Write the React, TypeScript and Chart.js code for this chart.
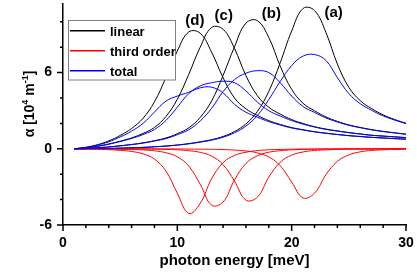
import React, { useEffect, useRef } from "react";
import { Chart, registerables } from "chart.js";

Chart.register(...registerables);

// photon energy [meV]
const energy = [1, 2, 3, 4, 5, 6, 7, 8, 9, 10, 11, 12, 13, 14, 15, 16, 17, 18, 19, 20, 21, 22, 23, 24, 25, 26, 27, 28, 29, 30];

// linear absorption (black)
const linearA = [0, 0.01, 0.02, 0.03, 0.05, 0.08, 0.11, 0.16, 0.22, 0.3, 0.41, 0.55, 0.72, 0.97, 1.36, 1.96, 2.94, 4.52, 6.78, 9.27, 11.05, 10.89, 9.15, 6.67, 4.84, 3.79, 3.16, 2.67, 2.31, 2.01];
const linearB = [0, 0.03, 0.08, 0.15, 0.24, 0.34, 0.47, 0.64, 0.85, 1.19, 1.65, 2.47, 3.77, 5.77, 8.03, 9.89, 10.09, 8.76, 6.51, 4.68, 3.58, 2.99, 2.51, 2.16, 1.88, 1.68, 1.51, 1.37, 1.26, 1.15];
const linearC = [0, 0.08, 0.2, 0.38, 0.6, 0.86, 1.21, 1.68, 2.54, 3.9, 5.86, 8.0, 9.55, 9.41, 7.9, 5.76, 4.18, 3.27, 2.73, 2.3, 1.99, 1.74, 1.55, 1.41, 1.28, 1.17, 1.07, 1.0, 0.94, 0.88];
const linearD = [0, 0.12, 0.32, 0.62, 1.05, 1.6, 2.4, 3.7, 5.6, 7.7, 9.2, 9.1, 7.6, 5.6, 4.0, 3.15, 2.63, 2.22, 1.92, 1.67, 1.5, 1.35, 1.23, 1.13, 1.04, 0.97, 0.9, 0.85, 0.8, 0.76];

// third order (red)
const thirdA = [0, 0, 0, 0, 0, 0, 0, 0, -0.01, -0.01, -0.02, -0.03, -0.04, -0.06, -0.1, -0.17, -0.32, -0.64, -1.33, -2.62, -3.87, -3.49, -2.04, -0.99, -0.48, -0.24, -0.13, -0.08, -0.05, -0.03];
const thirdB = [0, 0, 0, -0.01, -0.01, -0.01, -0.02, -0.03, -0.05, -0.08, -0.15, -0.28, -0.58, -1.24, -2.54, -4.04, -3.81, -2.23, -1.06, -0.5, -0.25, -0.13, -0.08, -0.05, -0.03, -0.02, -0.02, -0.01, -0.01, -0.01];
const thirdC = [0, 0, -0.01, -0.02, -0.03, -0.05, -0.09, -0.16, -0.31, -0.63, -1.36, -2.79, -4.44, -4.19, -2.45, -1.16, -0.55, -0.27, -0.15, -0.08, -0.05, -0.03, -0.02, -0.02, -0.01, -0.01, -0.01, 0, 0, 0];
const thirdD = [0, -0.02, -0.04, -0.07, -0.12, -0.21, -0.4, -0.81, -1.75, -3.5, -5.09, -4.3, -2.35, -1.1, -0.52, -0.27, -0.14, -0.08, -0.05, -0.03, -0.02, -0.02, -0.01, -0.01, -0.01, -0.01, 0, 0, 0, 0];

// total (blue)
const totalA = [0, 0.01, 0.02, 0.03, 0.05, 0.08, 0.11, 0.16, 0.21, 0.29, 0.39, 0.52, 0.68, 0.91, 1.26, 1.79, 2.62, 3.88, 5.3, 6.55, 7.3, 7.42, 6.95, 5.6, 4.35, 3.55, 3.03, 2.59, 2.26, 1.98];
const totalB = [0, 0.03, 0.08, 0.14, 0.23, 0.33, 0.45, 0.61, 0.8, 1.11, 1.5, 2.19, 3.19, 4.5, 5.45, 5.95, 6.15, 6.0, 5.2, 4.15, 3.33, 2.86, 2.43, 2.11, 1.85, 1.66, 1.49, 1.36, 1.25, 1.14];
const totalC = [0, 0.08, 0.19, 0.36, 0.57, 0.81, 1.12, 1.52, 2.23, 3.27, 4.35, 4.95, 5.2, 5.32, 5.2, 4.55, 3.68, 3.0, 2.58, 2.22, 1.94, 1.71, 1.53, 1.39, 1.27, 1.16, 1.06, 1.0, 0.94, 0.88];
const totalD = [0, 0.1, 0.28, 0.55, 0.93, 1.39, 2.0, 2.89, 3.75, 4.15, 4.45, 4.8, 4.85, 4.4, 3.5, 2.88, 2.49, 2.14, 1.87, 1.64, 1.48, 1.33, 1.22, 1.12, 1.03, 0.96, 0.9, 0.85, 0.8, 0.76];

// annotations (curve names, placed in data units)
const curveNames = ["(a)", "(b)", "(c)", "(d)"];
const curveNameEnergy = [23.67, 18.23, 14.06, 11.53];
const curveNameAlpha = [10.69, 10.63, 10.5, 10.1];

const legendNames = ["linear", "third order", "total"];
const BLACK = "#000000";
const RED = "#ff0000";
const BLUE = "#0000ff";
const legendColors = [BLACK, RED, BLUE];

const xTitle = "photon energy [meV]";

const FONT = '"Liberation Sans", Arial, Helvetica, sans-serif';

function pts(arr: number[]) {
  return energy.map((e, i) => ({ x: e, y: arr[i] }));
}

const decorPlugin = {
  id: "decor",
  afterDraw(chart: any) {
    const { ctx, chartArea, scales } = chart;
    const xs = scales.x;
    const ys = scales.y;
    ctx.save();
    // tick marks
    ctx.strokeStyle = "#000";
    ctx.lineWidth = 1.5;
    ctx.beginPath();
    xs.ticks.forEach((t: any) => {
      const px = xs.getPixelForValue(t.value);
      const len = Math.round(t.value) % 10 === 0 ? 6 : 3;
      ctx.moveTo(px, chartArea.bottom);
      ctx.lineTo(px, chartArea.bottom + len);
    });
    ys.ticks.forEach((t: any) => {
      const py = ys.getPixelForValue(t.value);
      const len = Math.round(t.value) % 6 === 0 ? 6 : 3;
      ctx.moveTo(chartArea.left - len, py);
      ctx.lineTo(chartArea.left, py);
    });
    ctx.stroke();

    ctx.fillStyle = "#000";
    // x title
    ctx.font = `bold 15px ${FONT}`;
    ctx.textAlign = "center";
    ctx.textBaseline = "alphabetic";
    ctx.fillText(xTitle, (chartArea.left + chartArea.right) / 2, 264.5);

    // y title with superscripts
    const segs = [
      { t: "\u03b1 [10", s: 14, r: 0 },
      { t: "4", s: 9, r: 6 },
      { t: " m", s: 14, r: 0 },
      { t: "-1", s: 9, r: 6 },
      { t: "]", s: 14, r: 0 },
    ];
    let total = 0;
    const widths = segs.map((sg) => {
      ctx.font = `bold ${sg.s}px ${FONT}`;
      const w = ctx.measureText(sg.t).width;
      total += w;
      return w;
    });
    ctx.save();
    ctx.translate(33.5, 104);
    ctx.rotate(-Math.PI / 2);
    ctx.textAlign = "left";
    let cur = -total / 2;
    segs.forEach((sg, i) => {
      ctx.font = `bold ${sg.s}px ${FONT}`;
      ctx.fillText(sg.t, cur, -sg.r);
      cur += widths[i];
    });
    ctx.restore();

    // curve names
    ctx.font = `bold 15px ${FONT}`;
    ctx.textAlign = "center";
    ctx.textBaseline = "middle";
    curveNames.forEach((n, i) => {
      ctx.fillText(n, xs.getPixelForValue(curveNameEnergy[i]), ys.getPixelForValue(curveNameAlpha[i]));
    });

    // legend
    ctx.fillStyle = "#ffffff";
    ctx.fillRect(68.5, 20.5, 107, 59.5);
    ctx.strokeStyle = "#808080";
    ctx.lineWidth = 1;
    ctx.strokeRect(68.5, 20.5, 107, 59.5);
    const rows = [30.7, 50.7, 70.7];
    legendNames.forEach((n, i) => {
      ctx.strokeStyle = legendColors[i];
      ctx.lineWidth = 1.5;
      ctx.beginPath();
      ctx.moveTo(70, rows[i]);
      ctx.lineTo(105, rows[i]);
      ctx.stroke();
      ctx.fillStyle = "#000";
      ctx.font = `bold 13px ${FONT}`;
      ctx.textAlign = "left";
      ctx.textBaseline = "alphabetic";
      ctx.fillText(n, 110, rows[i] + 5.5);
    });
    ctx.restore();
  },
};

export default function App() {
  const ref = useRef<HTMLCanvasElement | null>(null);
  useEffect(() => {
    if (!ref.current) return;
    const mk = (label: string, arr: number[], color: string) => ({
      label,
      data: pts(arr),
      borderColor: color,
      backgroundColor: color,
      borderWidth: 1,
      pointRadius: 0,
      tension: 0.4,
      fill: false,
    });
    const datasets = [
      mk("total (a)", totalA, BLUE),
      mk("total (b)", totalB, BLUE),
      mk("total (c)", totalC, BLUE),
      mk("total (d)", totalD, BLUE),
      mk("third order (a)", thirdA, RED),
      mk("third order (b)", thirdB, RED),
      mk("third order (c)", thirdC, RED),
      mk("third order (d)", thirdD, RED),
      mk("linear (a)", linearA, BLACK),
      mk("linear (b)", linearB, BLACK),
      mk("linear (c)", linearC, BLACK),
      mk("linear (d)", linearD, BLACK),
    ];
    const tickFont = { family: FONT, size: 14, weight: "bold" as const };
    const chart = new Chart(ref.current, {
      type: "line",
      data: { datasets },
      options: {
        animation: false,
        responsive: false,
        events: [],
        layout: { padding: { left: 0, right: 11, top: 4, bottom: 0 } },
        plugins: { legend: { display: false }, tooltip: { enabled: false } },
        scales: {
          x: {
            type: "linear",
            min: 0,
            max: 30,
            grid: { display: false, drawTicks: false },
            border: { display: true, color: "#000", width: 1.5 },
            ticks: {
              stepSize: 2,
              autoSkip: false,
              maxRotation: 0,
              padding: 10,
              color: "#000",
              font: tickFont,
              callback: (v: any) => (Math.round(v) % 10 === 0 ? String(v) : ""),
            },
            afterFit: (s: any) => {
              s.height = 50;
              s.paddingLeft = 0;
              s.paddingRight = 0;
            },
          },
          y: {
            type: "linear",
            min: -6,
            max: 11.4,
            grid: { display: false, drawTicks: false },
            border: { display: true, color: "#000", width: 1.5 },
            ticks: {
              stepSize: 2,
              includeBounds: false,
              autoSkip: false,
              padding: 11,
              color: "#000",
              font: tickFont,
              callback: (v: any) => (Math.round(v) % 6 === 0 ? String(v) : ""),
            },
            afterFit: (s: any) => {
              s.width = 63;
              s.paddingTop = 0;
              s.paddingBottom = 0;
            },
          },
        },
      } as any,
      plugins: [decorPlugin],
    });
    return () => chart.destroy();
  }, []);
  return (
    <div style={{ position: "fixed", left: 0, top: 0, width: 417, height: 275, background: "#fff" }}>
      <canvas ref={ref} width={417} height={275} style={{ display: "block" }} />
    </div>
  );
}
